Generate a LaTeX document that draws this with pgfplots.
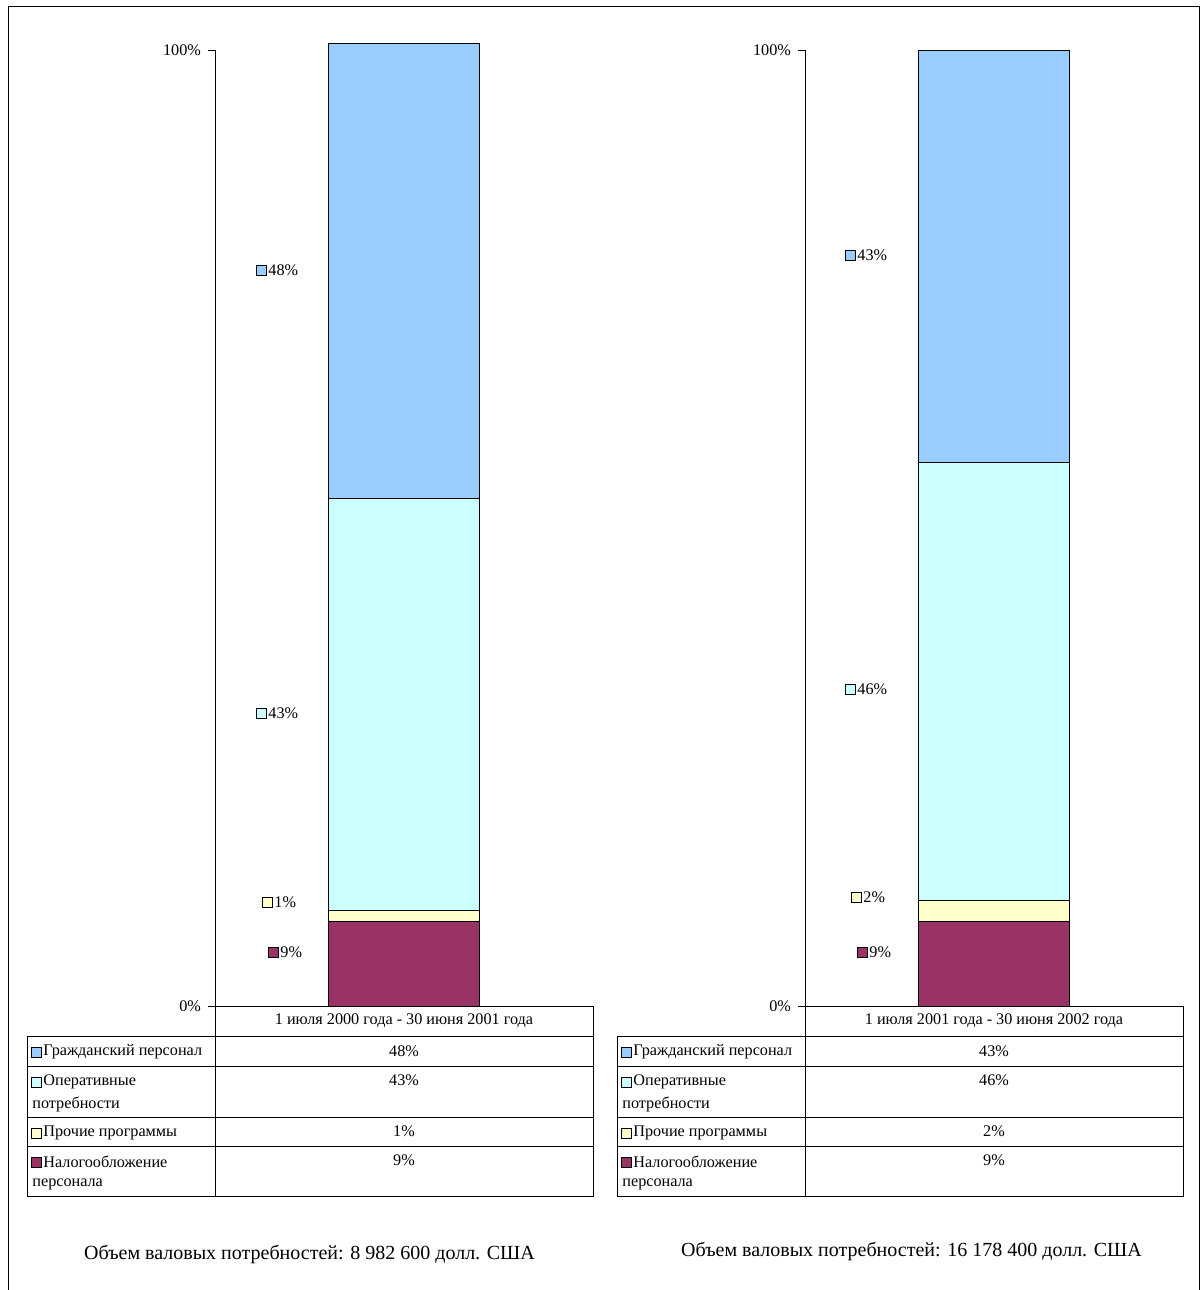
\documentclass[border=0pt]{standalone}
\usepackage{fontspec}
\setmainfont{Liberation Serif}
\usepackage{pgfplots}
\pgfplotsset{compat=1.18}
\definecolor{cblue}{HTML}{99CCFF}
\definecolor{ccyan}{HTML}{CCFFFF}
\definecolor{cyell}{HTML}{FFFFCC}
\definecolor{cplum}{HTML}{993366}
\newcommand\tabfont{\fontsize{8.1}{9.7}\selectfont}
\newcommand\footfont{\fontsize{10}{12}\selectfont}
\pgfplotsset{
  panel/.style={
    anchor=south west, width=189pt, height=478pt, scale only axis,
    xmin=0, xmax=1, ymin=0, ymax=100,
    axis x line=none, axis y line=left, y axis line style={-, black, thin},
    ytick={0,100}, yticklabels={0\%,100\%},
    tick align=outside, major tick length=3.5pt, tick style={black, thin},
    yticklabel style={font=\tabfont},
    /pgf/number format/assume math mode=true,
    ybar stacked, bar width=75.5pt, clip=false,
  },
}
\begin{document}
\begin{tikzpicture}[font=\tabfont, key/.style={draw=black, thin, inner sep=0pt, minimum size=5pt}]
\begin{scope}[x=0.5pt, y=-0.5pt]
  \useasboundingbox (0,0) rectangle (1201,1290);
  \draw[black, thin] (8,1290) -- (8,6) -- (1199,6) -- (1199,1290);
\end{scope}

% period 1: 1 July 2000 - 30 June 2001
\begin{axis}[panel, at={(107.5pt,-503pt)}]
  \addplot[fill=cplum, draw=black] coordinates {(0.5,8.9)};
  \addplot[fill=cyell, draw=black] coordinates {(0.5,1.05)};
  \addplot[fill=ccyan, draw=black] coordinates {(0.5,43.1)};
  \addplot[fill=cblue, draw=black] coordinates {(0.5,47.6)};
\end{axis}

% period 2: 1 July 2001 - 30 June 2002
\begin{axis}[panel, at={(402.5pt,-503pt)}]
  \addplot[fill=cplum, draw=black] coordinates {(0.5,8.9)};
  \addplot[fill=cyell, draw=black] coordinates {(0.5,2.1)};
  \addplot[fill=ccyan, draw=black] coordinates {(0.5,45.9)};
  \addplot[fill=cblue, draw=black] coordinates {(0.5,43.1)};
\end{axis}

\begin{scope}[x=0.5pt, y=-0.5pt]
  % value labels beside the bars
  \node[key, fill=cblue] at (261,270) {}; \node[anchor=west, inner sep=0pt] at (268,270) {48\%};
  \node[key, fill=ccyan] at (261,713) {}; \node[anchor=west, inner sep=0pt] at (268,713) {43\%};
  \node[key, fill=cyell] at (267,902) {}; \node[anchor=west, inner sep=0pt] at (274,902) {1\%};
  \node[key, fill=cplum] at (273,952) {}; \node[anchor=west, inner sep=0pt] at (280,952) {9\%};
  \node[key, fill=cblue] at (850,255) {}; \node[anchor=west, inner sep=0pt] at (857,255) {43\%};
  \node[key, fill=ccyan] at (850,689) {}; \node[anchor=west, inner sep=0pt] at (857,689) {46\%};
  \node[key, fill=cyell] at (856,897) {}; \node[anchor=west, inner sep=0pt] at (863,897) {2\%};
  \node[key, fill=cplum] at (862,952) {}; \node[anchor=west, inner sep=0pt] at (869,952) {9\%};

  % data tables
  \foreach \L/\D/\R/\C/\a/\b/\c/\d/\per in {27/215/593/404/48/43/1/9/{1 июля 2000 года - 30 июня 2001 года},
                                            617/805/1183/994/43/46/2/9/{1 июля 2001 года - 30 июня 2002 года}}{
    \draw[black, thin] (\D,1006) -- (\R,1006) -- (\R,1196) -- (\L,1196) -- (\L,1036) -- (\R,1036);
    \draw[black, thin] (\D,1006) -- (\D,1196);
    \foreach \yy in {1066,1117,1146} \draw[black, thin] (\L,\yy) -- (\R,\yy);
    \node at (\C,1021) {\per};
    \node at (\C,1051) {\a\%};
    \node at (\C,1080) {\b\%};
    \node at (\C,1131) {\c\%};
    \node at (\C,1160) {\d\%};
    \node[key, fill=cblue] at (\L+9,1052) {};
    \node[key, fill=ccyan] at (\L+9,1082) {};
    \node[key, fill=cyell] at (\L+9,1133) {};
    \node[key, fill=cplum] at (\L+9,1162) {};
    \node[anchor=west, inner sep=0pt] at (\L+16,1052) {Гражданский персонал};
    \node[anchor=west, inner sep=0pt] at (\L+16,1082) {Оперативные};
    \node[anchor=west, inner sep=0pt] at (\L+5,1104) {потребности};
    \node[anchor=west, inner sep=0pt] at (\L+16,1133) {Прочие программы};
    \node[anchor=west, inner sep=0pt] at (\L+16,1162) {Налогообложение};
    \node[anchor=west, inner sep=0pt] at (\L+5,1184) {персонала};
  }

  % totals
  \node[font=\footfont] at (309.5,1254) {Объем валовых потребностей: 8 982 600 долл. США};
  \node[font=\footfont] at (911.5,1251) {Объем валовых потребностей: 16 178 400 долл. США};
\end{scope}
\end{tikzpicture}
\end{document}
